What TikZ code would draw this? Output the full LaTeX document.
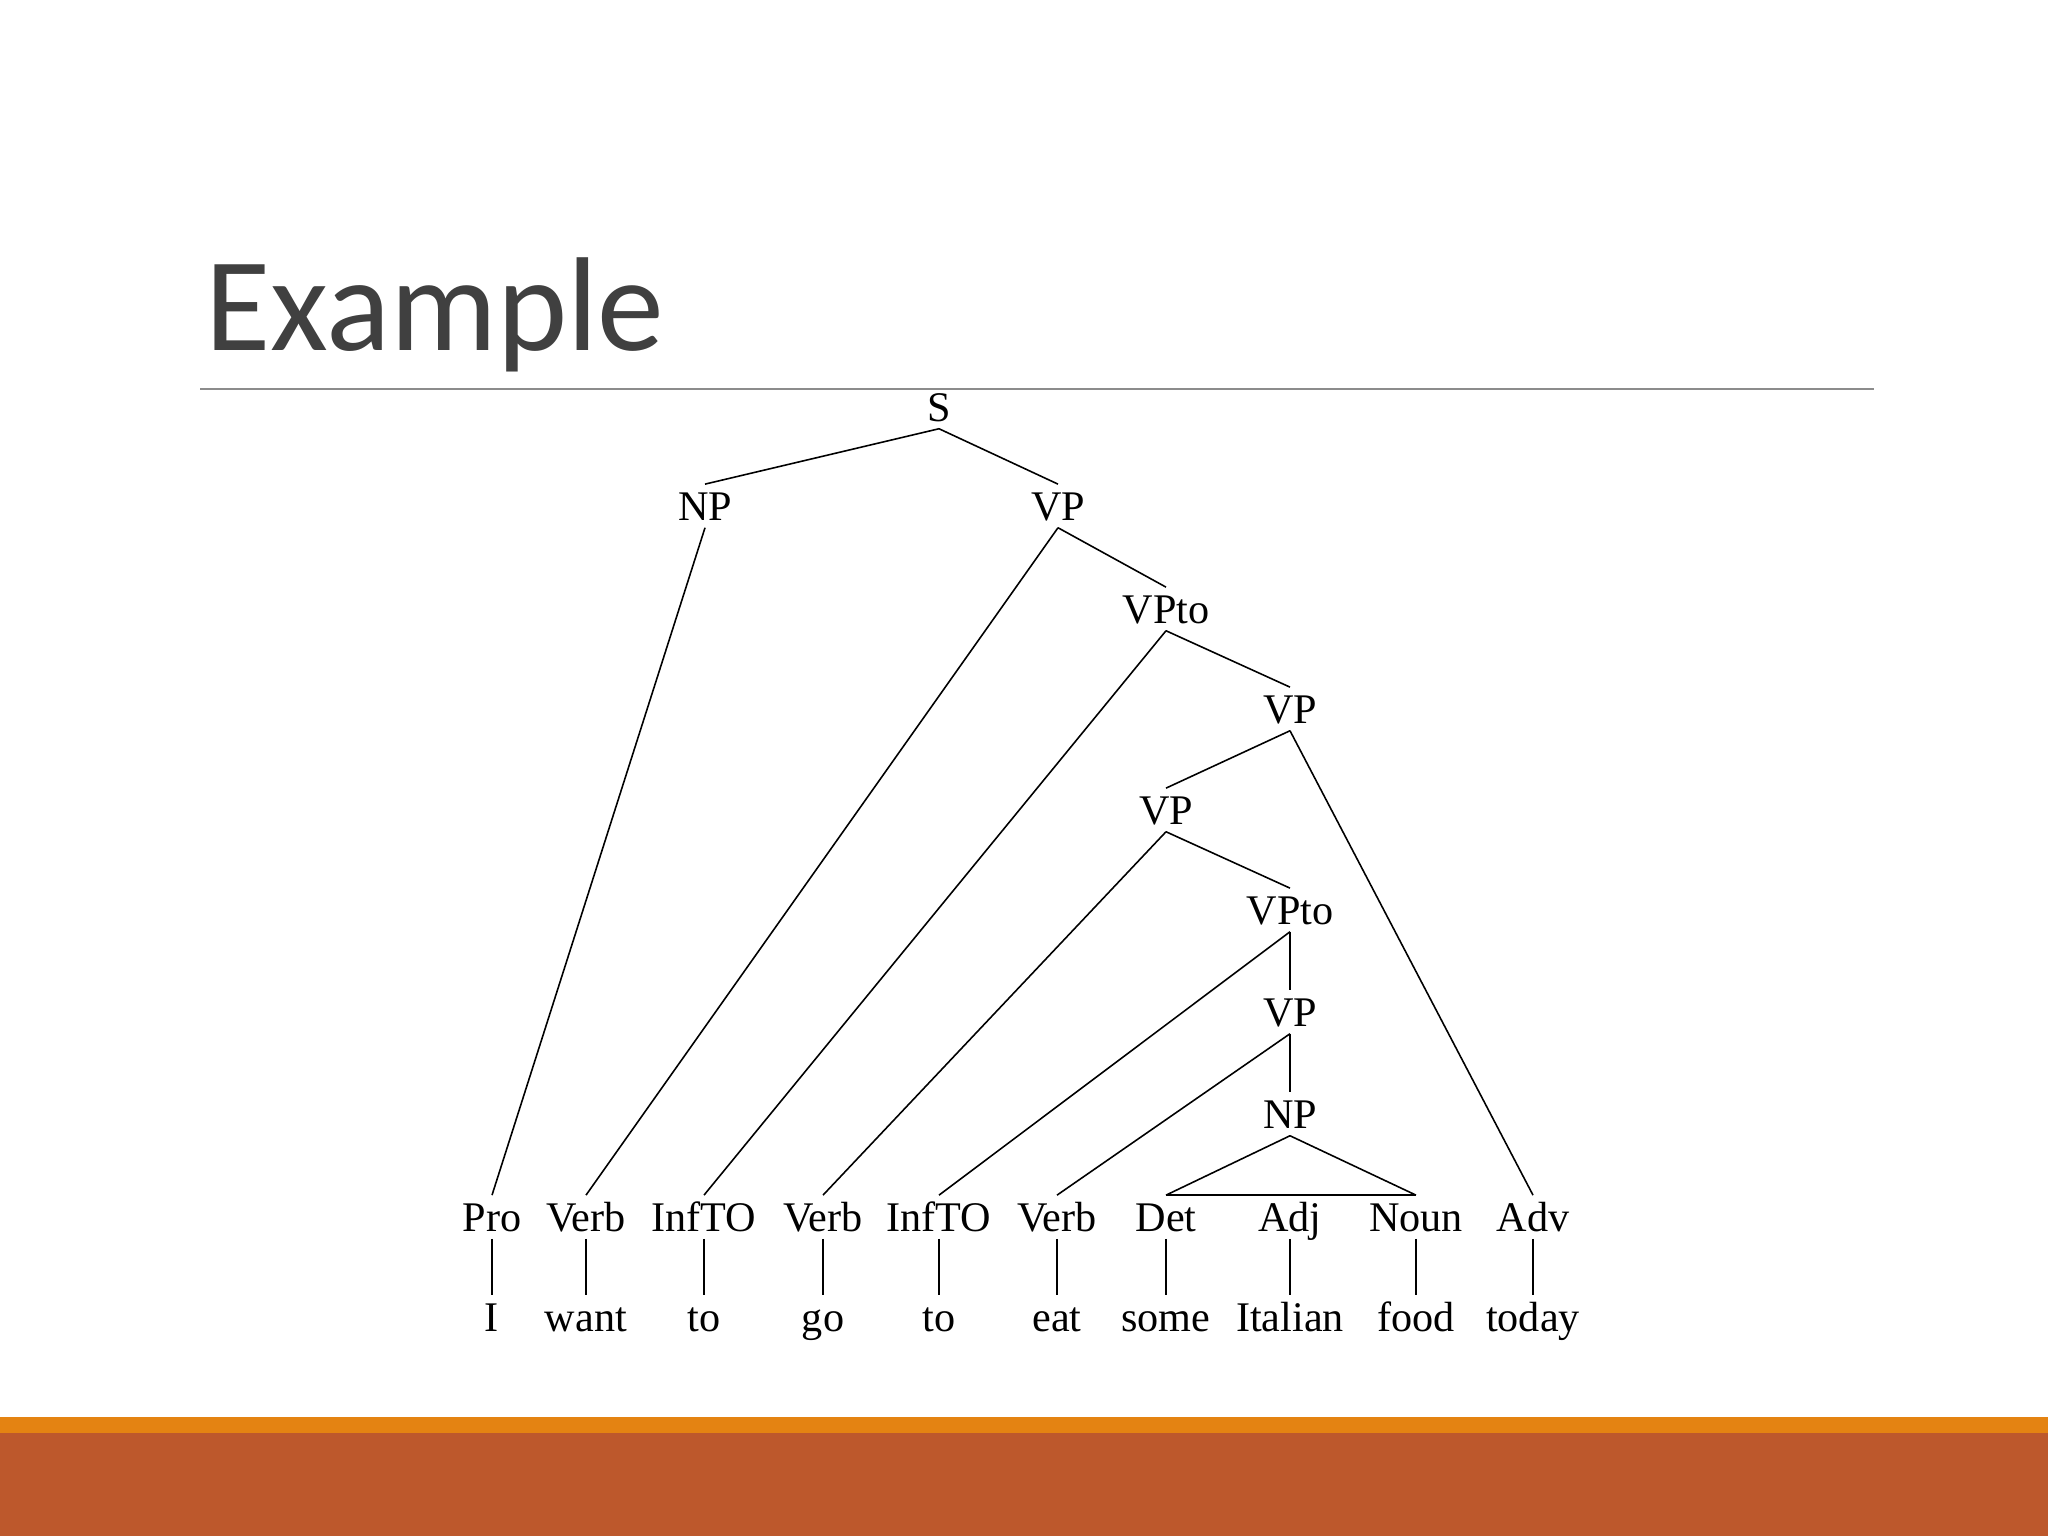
\documentclass[tikz,border=0pt]{standalone}
\usepackage{fontspec}
\setmainfont{Liberation Serif}
\newfontfamily\titlefont{Carlito}
\definecolor{titlegray}{HTML}{404040}
\definecolor{rulegray}{HTML}{8C8C8C}
\definecolor{barorange}{HTML}{E48312}
\definecolor{barrust}{HTML}{BD582C}
\begin{document}
\begin{tikzpicture}[x=0.01cm,y=-0.01cm,
  tn/.style={font=\fontsize{12}{14}\selectfont, anchor=base, text height=8pt, text depth=0pt, inner sep=2pt},
  edge/.style={line width=0.45pt, black}]
\useasboundingbox (0,0) rectangle (2048,1536);
\fill[white] (0,0) rectangle (2048,1536);
\fill[barorange] (0,1417) rectangle (2048,1433);
\fill[barrust] (0,1433) rectangle (2048,1536);
\draw[rulegray, line width=0.6pt] (200,389) -- (1874,389);
\node[font=\titlefont\fontsize{38}{44}\selectfont, text=titlegray, anchor=base west, inner sep=0] (title) at (205,350) {Example};

% interior nodes
\node[tn] (S) at (939,421) {S};
\node[tn] (NP1) at (705,520) {NP};
\node[tn] (VP1) at (1058,520) {VP};
\node[tn] (VPto1) at (1166,623) {VPto};
\node[tn] (VP2) at (1290,723) {VP};
\node[tn] (VP3) at (1166,824) {VP};
\node[tn] (VPto2) at (1290,924) {VPto};
\node[tn] (VP4) at (1290,1026) {VP};
\node[tn] (NP2) at (1290,1128) {NP};

% preterminals
\node[tn] (Pro) at (492,1231) {Pro};
\node[tn] (Verb1) at (586,1231) {Verb};
\node[tn] (Inf1) at (704,1231) {InfTO};
\node[tn] (Verb2) at (823,1231) {Verb};
\node[tn] (Inf2) at (939,1231) {InfTO};
\node[tn] (Verb3) at (1057,1231) {Verb};
\node[tn] (Det) at (1166,1231) {Det};
\node[tn] (Adj) at (1290,1231) {Adj};
\node[tn] (Noun) at (1416,1231) {Noun};
\node[tn] (Adv) at (1533,1231) {Adv};

% words
\node[tn] (w1) at (492,1331) {I};
\node[tn] (w2) at (586,1331) {want};
\node[tn] (w3) at (704,1331) {to};
\node[tn] (w4) at (823,1331) {go};
\node[tn] (w5) at (939,1331) {to};
\node[tn] (w6) at (1057,1331) {eat};
\node[tn] (w7) at (1166,1331) {some};
\node[tn] (w8) at (1290,1331) {Italian};
\node[tn] (w9) at (1416,1331) {food};
\node[tn] (w10) at (1533,1331) {today};

% edges
\draw[edge] (S.south) -- (NP1.north);
\draw[edge] (S.south) -- (VP1.north);
\draw[edge] (NP1.south) -- (Pro.north);
\draw[edge] (VP1.south) -- (Verb1.north);
\draw[edge] (VP1.south) -- (VPto1.north);
\draw[edge] (VPto1.south) -- (Inf1.north);
\draw[edge] (VPto1.south) -- (VP2.north);
\draw[edge] (VP2.south) -- (VP3.north);
\draw[edge] (VP2.south) -- (Adv.north);
\draw[edge] (VP3.south) -- (Verb2.north);
\draw[edge] (VP3.south) -- (VPto2.north);
\draw[edge] (VPto2.south) -- (Inf2.north);
\draw[edge] (VPto2.south) -- (VP4.north);
\draw[edge] (VP4.south) -- (Verb3.north);
\draw[edge] (VP4.south) -- (NP2.north);
\draw[edge] (NP2.south) -- (Det.north);
\draw[edge] (NP2.south) -- (Noun.north);
\draw[edge] (Det.north) -- (Noun.north);

\foreach \p/\w in {Pro/w1,Verb1/w2,Inf1/w3,Verb2/w4,Inf2/w5,Verb3/w6,Det/w7,Adj/w8,Noun/w9,Adv/w10}
  \draw[edge] (\p.south) -- (\w.north);
\end{tikzpicture}
\end{document}
